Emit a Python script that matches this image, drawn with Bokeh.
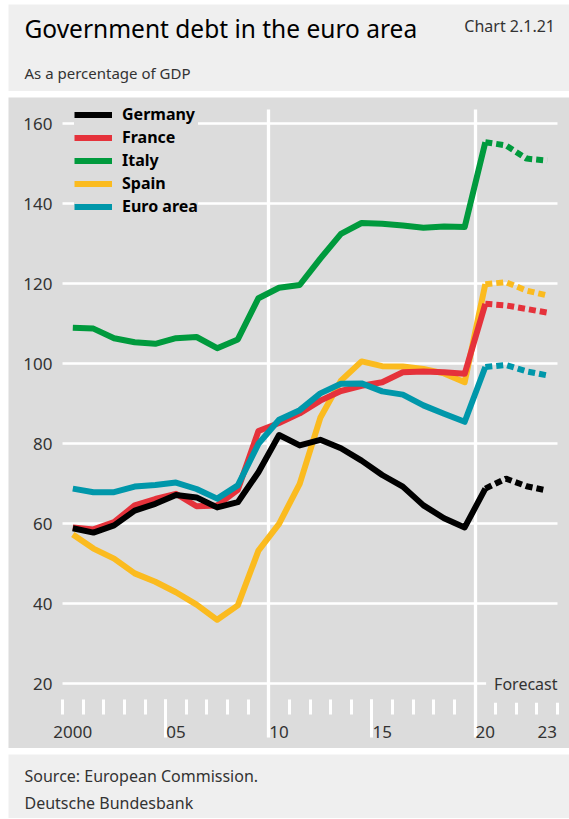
from bokeh.plotting import figure
from bokeh.models import Range1d, LinearAxis, FixedTicker, Label, Legend, LegendItem
from bokeh.layouts import column
from bokeh.embed import file_html
from bokeh.resources import INLINE

# ---------------- data ----------------
years = list(range(2000, 2024))
last_actual = 2020
germany = [58.9, 57.8, 59.6, 63.3, 65.0, 67.2, 66.6, 64.1, 65.4, 72.9, 82.2, 79.6,
           81.0, 78.9, 75.8, 72.2, 69.3, 64.6, 61.4, 59.1, 68.8, 71.3, 69.4, 68.3]
france = [59.1, 58.6, 60.4, 64.6, 66.2, 67.5, 64.4, 64.6, 68.5, 83.2, 85.2, 87.6,
          90.8, 93.2, 94.5, 95.4, 97.9, 98.1, 97.9, 97.5, 115.0, 114.6, 113.7, 112.8]
italy = [109.0, 108.8, 106.4, 105.4, 105.0, 106.4, 106.7, 103.9, 106.1, 116.4, 119.0, 119.7,
         126.3, 132.5, 135.2, 135.0, 134.6, 134.0, 134.3, 134.2, 155.4, 154.6, 151.3, 150.8]
spain = [57.3, 53.8, 51.3, 47.6, 45.5, 42.9, 39.8, 36.0, 39.6, 53.3, 60.0, 70.0,
         86.5, 95.8, 100.6, 99.4, 99.3, 98.7, 97.6, 95.4, 119.9, 120.4, 118.3, 117.1]
euro_area = [68.8, 67.9, 67.9, 69.3, 69.7, 70.3, 68.7, 66.3, 69.6, 80.0, 86.0, 88.4,
             92.6, 95.0, 95.1, 93.1, 92.3, 89.6, 87.5, 85.5, 99.2, 99.7, 98.1, 97.1]

series_names = ["Germany", "France", "Italy", "Spain", "Euro area"]
series_colors = ["#000000", "#e5323b", "#009a3d", "#fbbb1f", "#0097aa"]
draw_order = ["Italy", "Spain", "France", "Euro area", "Germany"]
series_values = {"Germany": germany, "France": france, "Italy": italy,
                 "Spain": spain, "Euro area": euro_area}

y_ticks = [20, 40, 60, 80, 100, 120, 140, 160]
x_label_years = [2000, 2005, 2010, 2015, 2020, 2023]
x_label_text = ["2000", "05", "10", "15", "20", "23"]

title_text = "Government debt in the euro area"
subtitle_text = "As a percentage of GDP"
chart_no = "Chart 2.1.21"
source_lines = ["Source: European Commission.", "Deutsche Bundesbank"]

# ---------------- style ----------------
FONT = "Noto Sans"
W = 561
PANEL = "#dcdcdc"
LIGHT = "#efefef"
TXT = "#333333"


def text_panel(height):
    f = figure(width=W, height=height, x_range=Range1d(0, W), y_range=Range1d(height, 0),
               toolbar_location=None, output_backend="svg",
               x_axis_location=None, y_axis_location=None, min_border=0)
    f.background_fill_color = LIGHT
    f.border_fill_color = LIGHT
    f.outline_line_color = None
    f.grid.visible = False
    return f


# ---------------- title panel ----------------
t = text_panel(87)
t.add_layout(Label(x=16, y=24, text=title_text, text_font=FONT, text_font_size="24.5px",
                   text_color="#000000", text_baseline="middle"))
t.add_layout(Label(x=16, y=68, text=subtitle_text, text_font=FONT, text_font_size="15px",
                   text_color=TXT, text_baseline="middle"))
t.add_layout(Label(x=546.5, y=21, text=chart_no, text_font=FONT, text_font_size="16px",
                   text_color=TXT, text_baseline="middle", text_align="right"))

# ---------------- main chart ----------------
H = 651
PX_YEAR = 20.625
x_start = 1999.5 - 54 / PX_YEAR
p = figure(width=W, height=H, x_range=Range1d(x_start, x_start + W / PX_YEAR),
           y_range=Range1d(3.825, 166.575), toolbar_location=None, output_backend="svg",
           x_axis_location=None, y_axis_location=None, min_border=0)
p.background_fill_color = PANEL
p.border_fill_color = PANEL
p.outline_line_color = None
p.grid.visible = False

# year boundaries for ticks
bounds = [y - 0.5 for y in years] + [years[-1] + 0.5]
grid_bounds = [b for b in bounds if (b + 0.5) % 10 == 0 and b > bounds[0]]
long_bounds = [b for b in bounds if (b + 0.5) % 10 == 5]
axis_at = 16

# y axis at the left edge of the year span; its ticks form the horizontal grid lines
yax = LinearAxis(fixed_location=bounds[0], ticker=FixedTicker(ticks=y_ticks, minor_ticks=[]),
                 axis_line_color=None, major_tick_line_color="white", major_tick_line_width=2.6,
                 major_tick_in=495, major_tick_out=0, minor_tick_line_color=None,
                 major_label_standoff=10, major_label_text_font=FONT,
                 major_label_text_font_size="17px", major_label_text_color=TXT,
                 level="underlay")
p.add_layout(yax, "left")

ax_grid = LinearAxis(fixed_location=axis_at,
                     ticker=FixedTicker(ticks=grid_bounds, minor_ticks=[]),
                     axis_line_color=None, major_tick_line_color="white",
                     major_tick_line_width=3.3, major_tick_in=590, major_tick_out=38,
                     minor_tick_line_color=None, major_label_text_color=None, level="underlay")
ax_ticks = LinearAxis(fixed_location=axis_at,
                      ticker=FixedTicker(ticks=long_bounds, minor_ticks=bounds),
                      axis_line_color=None, major_tick_line_color="white",
                      major_tick_line_width=3, major_tick_in=0, major_tick_out=38,
                      minor_tick_line_color="white", minor_tick_line_width=3,
                      minor_tick_in=0, minor_tick_out=15,
                      major_label_text_color=None, level="underlay")
ax_labels = LinearAxis(fixed_location=axis_at,
                       ticker=FixedTicker(ticks=x_label_years, minor_ticks=[]),
                       major_label_overrides={y: s for y, s in zip(x_label_years, x_label_text)},
                       axis_line_color=None, major_tick_line_color=None,
                       minor_tick_line_color=None, major_tick_in=0, major_tick_out=0,
                       major_label_standoff=26, major_label_text_font=FONT,
                       major_label_text_font_size="17px", major_label_text_color=TXT)
for a in (ax_grid, ax_ticks, ax_labels):
    p.add_layout(a, "below")

# lines
solid_years = [y for y in years if y <= last_actual]
fc_years = [y for y in years if y >= last_actual]
n_solid = len(solid_years)
renderers = {}
for name in draw_order:
    vals = series_values[name]
    col = series_colors[series_names.index(name)]
    r = p.line(solid_years, vals[:n_solid], line_color=col, line_width=6, line_join="round")
    p.line(fc_years, vals[n_solid - 1:], line_color=col, line_width=6, line_dash="7 4")
    renderers[name] = r

legend = Legend(items=[LegendItem(label=n, renderers=[renderers[n]]) for n in series_names],
                location=(66, 531), background_fill_color=PANEL, background_fill_alpha=1,
                border_line_color=None, padding=7, margin=0, spacing=1,
                glyph_width=38, glyph_height=17, label_height=17, label_standoff=10,
                label_text_font=FONT, label_text_font_style="bold",
                label_text_font_size="16px", label_text_color="#000000")
p.add_layout(legend)

p.add_layout(Label(x=bounds[-1], y=20, x_offset=8, text="Forecast", text_align="right",
                   text_baseline="middle", text_font=FONT, text_font_size="16px",
                   text_color=TXT, background_fill_color=PANEL, padding=8))

# ---------------- footer ----------------
f = text_panel(64)
f.add_layout(Label(x=16, y=21, text=source_lines[0], text_font=FONT, text_font_size="16px",
                   text_color=TXT, text_baseline="middle"))
f.add_layout(Label(x=16, y=48, text=source_lines[1], text_font=FONT, text_font_size="16px",
                   text_color=TXT, text_baseline="middle"))

layout = column(t, p, f, spacing=6, margin=(4, 0, 0, 8))
open("out.html", "w").write(file_html(layout, INLINE))
